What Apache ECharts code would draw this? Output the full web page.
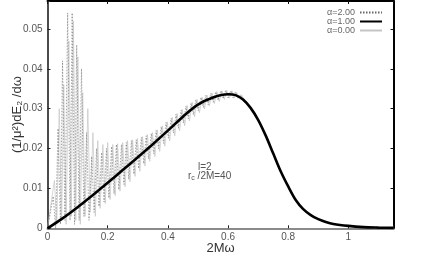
<!DOCTYPE html>
<html><head><meta charset="utf-8">
<script src="https://cdn.jsdelivr.net/npm/echarts@6/dist/echarts.min.js"></script>
<style>html,body{margin:0;padding:0;background:#fff}#c{width:441px;height:256px}</style>
</head><body><div id="c"></div>
<script>
var xTicks = ['0', '0.2', '0.4', '0.6', '0.8', '1'];
var yTicks = ['0', '0.01', '0.02', '0.03', '0.04', '0.05'];
var seriesNames = ['\u03b1=2.00', '\u03b1=1.00', '\u03b1=0.00'];

var alpha1X = [0, 0.05, 0.1, 0.15, 0.2, 0.25, 0.3, 0.35, 0.4, 0.45, 0.5, 0.55, 0.6, 0.625, 0.65, 0.675, 0.7, 0.725, 0.75, 0.775, 0.8, 0.825, 0.85, 0.875, 0.9, 0.925, 0.95, 1.0, 1.05, 1.1, 1.15];
var alpha1Y = [0, 0.0025, 0.0053, 0.0083, 0.0114, 0.0146, 0.0178, 0.0211, 0.0245, 0.0280, 0.0310, 0.0328, 0.0336, 0.0334, 0.0323, 0.0302, 0.0272, 0.0233, 0.0188, 0.0143, 0.0105, 0.0071, 0.0048, 0.0033, 0.0023, 0.0016, 0.0011, 0.0006, 0.0003, 0.00018, 0.0001];

var alpha2X = [0, 0.019, 0.027, 0.035, 0.043, 0.050, 0.058, 0.067, 0.075, 0.082, 0.090, 0.097, 0.105, 0.113, 0.121, 0.130, 0.138, 0.147, 0.155, 0.163, 0.171, 0.180, 0.188, 0.196, 0.204, 0.213, 0.221, 0.229, 0.237, 0.246, 0.254, 0.262, 0.270, 0.279, 0.287, 0.295, 0.303, 0.312, 0.320, 0.328, 0.336, 0.345, 0.353, 0.361, 0.369, 0.378, 0.386, 0.394, 0.402, 0.411, 0.419, 0.427, 0.435, 0.444, 0.452, 0.460, 0.468, 0.477, 0.485, 0.493, 0.501, 0.510, 0.518, 0.526, 0.534, 0.543, 0.551, 0.559, 0.567, 0.576, 0.584, 0.592, 0.600, 0.609, 0.617, 0.625, 0.633, 0.642, 0.650, 0.675, 0.700];
var alpha2Y = [0, 0.008, 0.000, 0.025, 0.001, 0.042, 0.002, 0.054, 0.002, 0.054, 0.001, 0.046, 0.002, 0.040, 0.003, 0.024, 0.002, 0.018, 0.004, 0.020, 0.0055, 0.019, 0.0066, 0.020, 0.0076, 0.0205, 0.0087, 0.021, 0.0097, 0.021, 0.0110, 0.0215, 0.0123, 0.022, 0.0136, 0.0222, 0.0150, 0.0228, 0.0162, 0.0232, 0.0174, 0.0238, 0.0187, 0.0245, 0.0200, 0.0255, 0.0213, 0.0265, 0.0226, 0.0276, 0.0239, 0.0286, 0.0251, 0.0296, 0.0264, 0.0306, 0.0275, 0.0314, 0.0285, 0.0322, 0.0295, 0.0328, 0.0303, 0.0333, 0.0310, 0.0338, 0.0316, 0.0342, 0.0321, 0.0345, 0.0325, 0.0346, 0.0327, 0.0345, 0.0327, 0.0342, 0.0325, 0.0335, 0.0319, 0.0302, 0.0272];

var alpha0X = [0, 0.023, 0.031, 0.039, 0.047, 0.054, 0.062, 0.071, 0.079, 0.086, 0.094, 0.101, 0.109, 0.117, 0.125, 0.134, 0.142, 0.151, 0.159, 0.167, 0.175, 0.184, 0.192, 0.200, 0.208, 0.217, 0.225, 0.233, 0.241, 0.250, 0.258, 0.266, 0.274, 0.283, 0.291, 0.299, 0.307, 0.316, 0.324, 0.332, 0.340, 0.349, 0.357, 0.365, 0.373, 0.382, 0.390, 0.398, 0.406, 0.415, 0.423, 0.431, 0.439, 0.448, 0.456, 0.464, 0.472, 0.481, 0.489, 0.497, 0.505, 0.514, 0.522, 0.530, 0.538, 0.547, 0.555, 0.563, 0.571, 0.580, 0.588, 0.596, 0.604, 0.613, 0.621, 0.629, 0.637, 0.646, 0.654, 0.675, 0.700];
var alpha0Y = [0, 0.012, 0.001, 0.030, 0.002, 0.036, 0.001, 0.047, 0.003, 0.052, 0.002, 0.043, 0.001, 0.034, 0.003, 0.030, 0.004, 0.024, 0.003, 0.022, 0.005, 0.021, 0.0062, 0.0215, 0.0072, 0.021, 0.0082, 0.0212, 0.0093, 0.0215, 0.0104, 0.022, 0.0117, 0.0222, 0.0130, 0.0225, 0.0143, 0.023, 0.0156, 0.0235, 0.0168, 0.024, 0.0180, 0.0247, 0.0193, 0.0257, 0.0206, 0.0267, 0.0219, 0.0278, 0.0232, 0.0288, 0.0245, 0.0298, 0.0257, 0.0308, 0.0269, 0.0316, 0.0280, 0.0323, 0.0290, 0.0329, 0.0299, 0.0334, 0.0307, 0.0339, 0.0313, 0.0343, 0.0318, 0.0345, 0.0323, 0.0346, 0.0326, 0.0345, 0.0327, 0.0341, 0.0326, 0.0334, 0.0321, 0.0302, 0.0272];

function zip(xs, ys) {
  var n = Math.min(xs.length, ys.length), out = [];
  for (var i = 0; i < n; i++) out.push([xs[i], ys[i]]);
  return out;
}

var FONT = '"Liberation Sans", Arial, "DejaVu Sans", sans-serif';
var chart = echarts.init(document.getElementById('c'));
chart.setOption({
  animation: false,
  textStyle: {fontFamily: FONT},
  grid: {left: 47.5, right: 47.5, top: 1, bottom: 27.7, outerBoundsMode: 'none'},
  legend: {
    data: seriesNames,
    orient: 'vertical', right: 58, top: 8, align: 'right',
    itemWidth: 22, itemHeight: 7, itemGap: 0,
    itemStyle: {color: 'rgba(0,0,0,0)', borderWidth: 0, opacity: 0},
    textStyle: {fontSize: 9, color: '#666', fontFamily: FONT, lineHeight: 7},
    padding: 0
  },
  xAxis: [{
    type: 'value', min: 0, max: 1.15, interval: 0.2, position: 'bottom',
    axisLine: {show: true, onZero: false, lineStyle: {color: '#8a8a8a', width: 2}},
    axisTick: {show: true, inside: true, length: 3, lineStyle: {color: '#222', width: 1}},
    splitLine: {show: false},
    axisLabel: {color: '#555', fontSize: 10, margin: 4, fontFamily: FONT,
      formatter: function (v) { var i = Math.round(v / 0.2); return (Math.abs(v - i * 0.2) < 1e-6 && xTicks[i] !== undefined) ? xTicks[i] : ''; }},
    name: '2M\u03c9', nameLocation: 'middle', nameGap: 14, nameMoveOverlap: false,
    nameTextStyle: {fontSize: 13, color: '#333', fontFamily: FONT}
  }, {
    type: 'value', min: 0, max: 1.15, interval: 0.2, position: 'top',
    axisLine: {show: true, onZero: false, lineStyle: {color: '#000', width: 2}},
    axisTick: {show: true, inside: true, length: 3, lineStyle: {color: '#111', width: 1}},
    axisLabel: {show: false}, splitLine: {show: false}
  }],
  yAxis: [{
    type: 'value', min: 0, max: 0.057, interval: 0.01, position: 'left',
    axisLine: {show: true, onZero: false, lineStyle: {color: '#111', width: 1.5}},
    axisTick: {show: true, inside: true, length: 3, lineStyle: {color: '#222', width: 1}},
    splitLine: {show: false},
    axisLabel: {color: '#555', fontSize: 10, margin: 5, fontFamily: FONT,
      formatter: function (v) { var i = Math.round(v / 0.01); return (Math.abs(v - i * 0.01) < 1e-7 && yTicks[i] !== undefined) ? yTicks[i] : ''; }},
    name: '(1/\u03bc\u00b2)dE\u2082 /d\u03c9', nameLocation: 'middle', nameGap: 24, nameMoveOverlap: false,
    nameTextStyle: {fontSize: 13, color: '#333', fontFamily: FONT}
  }, {
    type: 'value', min: 0, max: 0.057, interval: 0.01, position: 'right',
    axisLine: {show: true, onZero: false, lineStyle: {color: '#000', width: 2}},
    axisTick: {show: true, inside: true, length: 3, lineStyle: {color: '#111', width: 1}},
    axisLabel: {show: false}, splitLine: {show: false}
  }],
  series: [{
    name: seriesNames[2], type: 'line', showSymbol: false, symbol: 'none',
    data: zip(alpha0X, alpha0Y), z: 1,
    lineStyle: {color: '#c4c4c4', width: 0.7}, itemStyle: {color: '#c4c4c4'}
  }, {
    name: seriesNames[0], type: 'line', showSymbol: false, symbol: 'none',
    data: zip(alpha2X, alpha2Y), z: 2,
    lineStyle: {color: '#666', width: 0.6, type: [1.5, 1.5]}, itemStyle: {color: '#666'}
  }, {
    name: seriesNames[1], type: 'line', showSymbol: false, symbol: 'none', smooth: 0.3,
    data: zip(alpha1X, alpha1Y), z: 3,
    lineStyle: {color: '#000', width: 2.6}, itemStyle: {color: '#000'}
  }],
  graphic: [{
    type: 'text', left: 198, top: 162,
    style: {text: 'l=2', fill: '#555', font: '10px ' + FONT}
  }, {
    type: 'text', left: 188, top: 171,
    style: {text: 'r{s|c} /2M=40', fill: '#555', font: '10px ' + FONT,
      rich: {s: {fontSize: 7, fill: '#555', padding: [5, 0, 0, 0]}}}
  }]
});
</script></body></html>
